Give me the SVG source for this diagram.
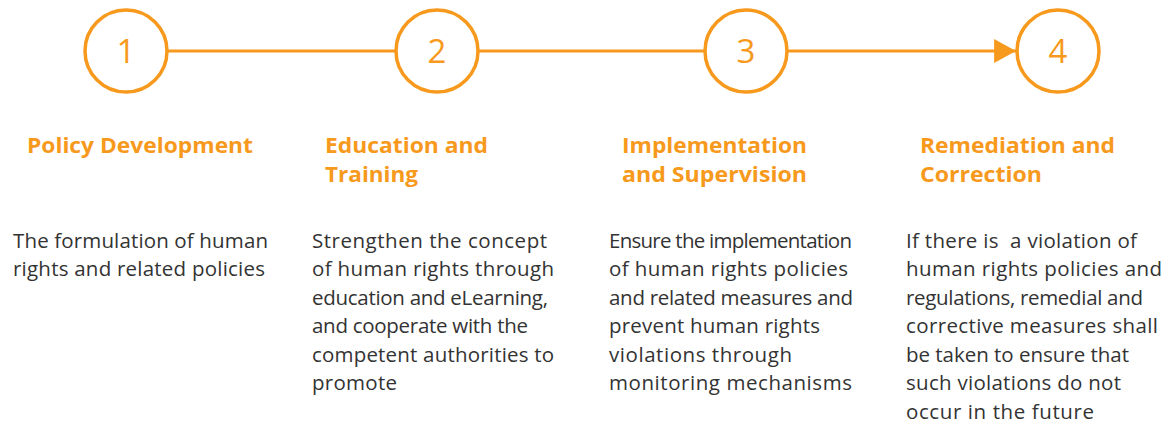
<svg xmlns="http://www.w3.org/2000/svg" width="1165" height="425" viewBox="0 0 1165 425">
<style>
.c{fill:#fff;stroke:#F7991C;stroke-width:3.5}
.n{font-family:"Open Sans",sans-serif;font-size:33px;fill:#F7991C;text-anchor:middle}
.t{font-family:"Open Sans","Liberation Sans",sans-serif;font-weight:bold;font-size:22px;fill:#F7991C}
.b{font-family:"Open Sans","Liberation Sans",sans-serif;font-size:20.5px;fill:#333;white-space:pre}
.l{stroke:#F7991C;stroke-width:3;fill:none}
</style>
<defs>
<marker id="ah" markerWidth="8" markerHeight="8" refX="7.3" refY="4" orient="auto" markerUnits="strokeWidth" viewBox="0 0 7.3 8">
<path d="M0,0 L7.3,4 L0,8 Z" fill="#F7991C"/>
</marker>
</defs>
<g id="connectors">
<line class="l" x1="167" y1="51" x2="396" y2="51"/>
<line class="l" x1="478" y1="51" x2="705" y2="51"/>
<line class="l" x1="788" y1="51" x2="1016" y2="51" marker-end="url(#ah)"/>
</g>
<g id="step1">
<circle class="c" cx="126" cy="51" r="41"/>
<text class="n" x="126" y="63">1</text>
<text class="t" x="27" y="153" textLength="226" lengthAdjust="spacingAndGlyphs">Policy Development</text>
<text class="b" x="13" y="248" textLength="255">The formulation of human</text>
<text class="b" x="13" y="276" textLength="252">rights and related policies</text>
</g>
<g id="step2">
<circle class="c" cx="437" cy="51" r="41"/>
<text class="n" x="437" y="63">2</text>
<text class="t" x="325" y="153" textLength="163" lengthAdjust="spacingAndGlyphs">Education and</text>
<text class="t" x="325" y="182" textLength="93" lengthAdjust="spacingAndGlyphs">Training</text>
<text class="b" x="312" y="248" textLength="235">Strengthen the concept</text>
<text class="b" x="312" y="276" textLength="242">of human rights through</text>
<text class="b" x="312" y="305" textLength="236">education and eLearning,</text>
<text class="b" x="312" y="333" textLength="216">and cooperate with the</text>
<text class="b" x="312" y="362" textLength="242">competent authorities to</text>
<text class="b" x="312" y="390" textLength="85">promote</text>
</g>
<g id="step3">
<circle class="c" cx="746" cy="51" r="41"/>
<text class="n" x="746" y="63">3</text>
<text class="t" x="622" y="153" textLength="185" lengthAdjust="spacingAndGlyphs">Implementation</text>
<text class="t" x="622" y="182" textLength="185" lengthAdjust="spacingAndGlyphs">and Supervision</text>
<text class="b" x="609" y="248" textLength="243">Ensure the implementation</text>
<text class="b" x="609" y="276" textLength="239">of human rights policies</text>
<text class="b" x="609" y="305" textLength="244">and related measures and</text>
<text class="b" x="609" y="333" textLength="211">prevent human rights</text>
<text class="b" x="609" y="362" textLength="183">violations through</text>
<text class="b" x="609" y="390" textLength="243">monitoring mechanisms</text>
</g>
<g id="step4">
<circle class="c" cx="1058" cy="51" r="41"/>
<text class="n" x="1058" y="63">4</text>
<text class="t" x="920" y="153" textLength="195" lengthAdjust="spacingAndGlyphs">Remediation and</text>
<text class="t" x="920" y="182" textLength="122" lengthAdjust="spacingAndGlyphs">Correction</text>
<text class="b" x="906" y="248" textLength="231">If there is  a violation of</text>
<text class="b" x="906" y="276" textLength="256">human rights policies and</text>
<text class="b" x="906" y="305" textLength="237">regulations, remedial and</text>
<text class="b" x="906" y="333" textLength="252">corrective measures shall</text>
<text class="b" x="906" y="362" textLength="223">be taken to ensure that</text>
<text class="b" x="906" y="390" textLength="215">such violations do not</text>
<text class="b" x="906" y="419" textLength="188">occur in the future</text>
</g>
</svg>
